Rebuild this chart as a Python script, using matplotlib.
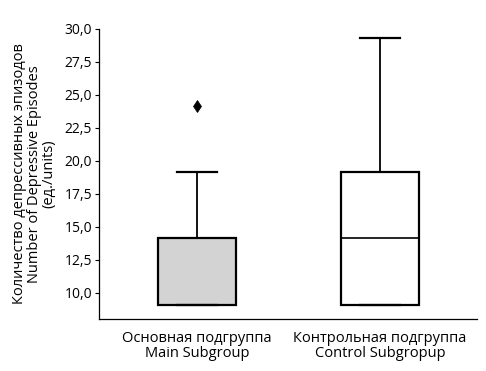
import matplotlib
matplotlib.use("Agg")
import matplotlib.pyplot as plt
from matplotlib.ticker import FuncFormatter

plt.rcParams['font.family'] = ['Open Sans', 'DejaVu Sans']

groups = ['Основная подгруппа\nMain Subgroup', 'Контрольная подгруппа\nControl Subgropup']
q1 = [9.1, 9.1]
med = [9.1, 14.15]
q3 = [14.15, 19.2]
whislo = [9.1, 9.1]
whishi = [19.2, 29.35]
outliers = [[24.15], []]
fills = ['#d3d3d3', 'white']

stats = []
for i in range(len(groups)):
    stats.append({'q1': q1[i], 'med': med[i], 'q3': q3[i],
                  'whislo': whislo[i], 'whishi': whishi[i], 'fliers': outliers[i]})

fig = plt.figure(figsize=(4.86, 3.71), dpi=100)
ax = fig.add_axes([99/486, 1 - 319/371, 378/486, 290/371])

bp = ax.bxp(stats, positions=[1, 2], widths=0.426, patch_artist=True,
            capwidths=0.22, showcaps=True,
            boxprops=dict(linewidth=1.6, edgecolor='black'),
            medianprops=dict(color='black', linewidth=1.2),
            whiskerprops=dict(color='black', linewidth=1.3),
            capprops=dict(color='black', linewidth=1.6),
            flierprops=dict(marker='d', markerfacecolor='black', markeredgecolor='black',
                            markersize=6, markeredgewidth=0.5))
for patch, c in zip(bp['boxes'], fills):
    patch.set_facecolor(c)

ax.set_xlim(0.465, 2.53)
ax.set_ylim(8.03, 30.0)
ax.set_yticks([10, 12.5, 15, 17.5, 20, 22.5, 25, 27.5, 30])
ax.yaxis.set_major_formatter(FuncFormatter(lambda v, p: f"{v:.1f}".replace('.', ',')))
ax.set_xticks([1, 2])
ax.set_xticklabels(groups, fontsize=10.5, linespacing=0.95)
ax.tick_params(axis='x', length=0, pad=9)
ax.tick_params(axis='y', length=3, width=0.8, labelsize=10, pad=2)

ax.spines['top'].set_visible(False)
ax.spines['right'].set_visible(False)
ax.spines['left'].set_linewidth(0.9)
ax.spines['bottom'].set_linewidth(0.9)

ax.set_ylabel('Количество депрессивных эпизодов\nNumber of Depressive Episodes\n(ед./units)',
              fontsize=10.5, linespacing=0.95, labelpad=6)

fig.savefig('out.png', dpi=100)
